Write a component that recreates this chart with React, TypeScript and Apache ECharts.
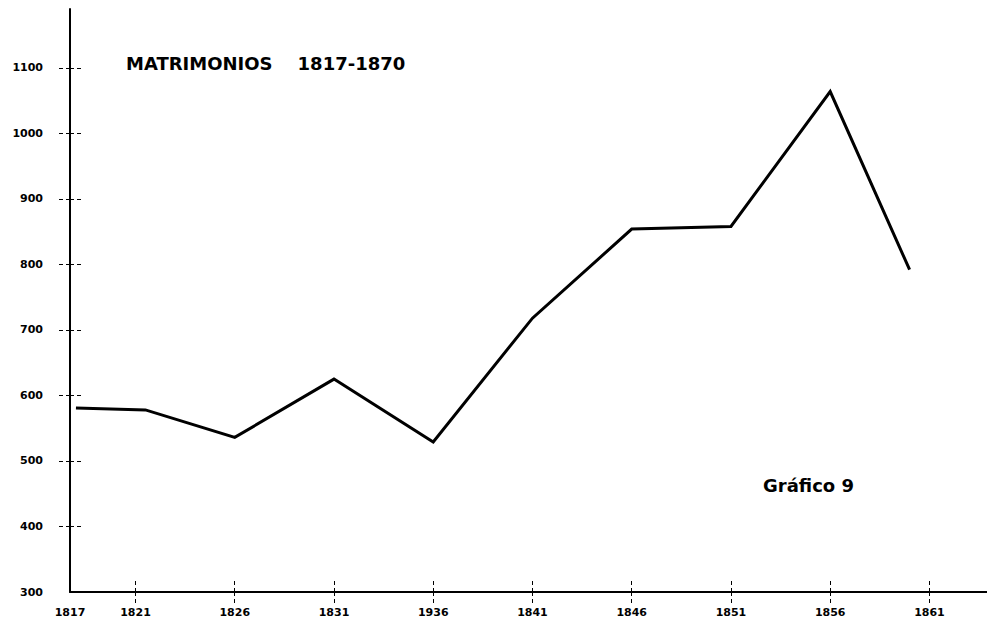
import React, { useEffect, useRef } from "react";
import * as echarts from "echarts";

// Data
const years = [1818, 1821.5, 1826, 1831, 1836, 1841, 1846, 1851, 1856, 1860];
const marriages = [581, 578, 536, 625, 529, 718, 854, 858, 1064, 792];

// Axis ticks / labels
const xTickYears = [1821, 1826, 1831, 1836, 1841, 1846, 1851, 1856, 1861];
const xTickLabels = ["1821", "1826", "1831", "1936", "1841", "1846", "1851", "1856", "1861"];
const xOriginLabel = "1817";
const xMin = 1817.7;
const xMax = 1863.9;
const yTicks = [300, 400, 500, 600, 700, 800, 900, 1000, 1100];
const yMin = 300;
const yMax = 1190;

const titleText = "MATRIMONIOS\u00a0\u00a0\u00a0\u00a01817-1870";
const noteText = "Gráfico 9";

export default function App() {
  const ref = useRef<HTMLDivElement>(null);

  useEffect(() => {
    if (!ref.current) return;
    const chart = echarts.init(ref.current, null, { renderer: "svg" });
    const font = "DejaVu Sans";
    const labelFor = (v: number) => {
      if (v < xTickYears[0] - 1) return xOriginLabel;
      const i = xTickYears.indexOf(Math.round(v));
      return i >= 0 ? xTickLabels[i] : String(v);
    };
    const tickStyle = { color: "#000", width: 1, type: [4, 3] as any };
    chart.setOption({
      animation: false,
      backgroundColor: "#fff",
      title: [
        {
          text: titleText,
          left: 121,
          top: 49,
          textStyle: { fontFamily: font, fontWeight: "bold", fontSize: 18, color: "#000" },
        },
        {
          text: noteText,
          left: 758,
          top: 471,
          textStyle: { fontFamily: font, fontWeight: "bold", fontSize: 18, color: "#000" },
        },
      ],
      grid: { left: 70, right: 0, top: 9, bottom: 29, containLabel: false },
      xAxis: [
        {
          type: "value",
          min: xMin,
          max: xMax,
          position: "bottom",
          axisLine: { show: true, onZero: false, lineStyle: { color: "#000", width: 2 } },
          axisTick: { show: true, length: 11, customValues: xTickYears, lineStyle: tickStyle },
          axisLabel: {
            show: true,
            customValues: [xMin, ...xTickYears],
            formatter: (v: number) => labelFor(v),
            margin: 15,
            fontFamily: font,
            fontWeight: "bold",
            fontSize: 11,
            color: "#000",
          },
          splitLine: { show: false },
        },
        {
          type: "value",
          min: xMin,
          max: xMax,
          position: "bottom",
          axisLine: { show: false, onZero: false },
          axisTick: { show: true, inside: true, length: 11, customValues: xTickYears, lineStyle: tickStyle },
          axisLabel: { show: false },
          splitLine: { show: false },
        },
      ],
      yAxis: [
        {
          type: "value",
          min: yMin,
          max: yMax,
          interval: 100,
          position: "left",
          axisLine: { show: true, onZero: false, lineStyle: { color: "#000", width: 2 } },
          axisTick: { show: true, length: 13, customValues: yTicks.slice(1), lineStyle: tickStyle },
          axisLabel: {
            show: true,
            customValues: yTicks,
            formatter: (v: number) => String(v),
            margin: 27,
            fontFamily: font,
            fontWeight: "bold",
            fontSize: 11,
            color: "#000",
          },
          splitLine: { show: false },
        },
        {
          type: "value",
          min: yMin,
          max: yMax,
          interval: 100,
          position: "left",
          offset: 0,
          axisLine: { show: false, onZero: false },
          axisTick: { show: true, inside: true, length: 13, customValues: yTicks.slice(1), lineStyle: tickStyle },
          axisLabel: { show: false },
          splitLine: { show: false },
        },
      ],
      series: [
        {
          type: "line",
          xAxisIndex: 0,
          yAxisIndex: 0,
          data: years.map((y, i) => [y, marriages[i]]),
          symbol: "none",
          lineStyle: { color: "#000", width: 3, join: "miter" },
        },
      ],
    });
    return () => chart.dispose();
  }, []);

  return (
    <div
      ref={ref}
      style={{ position: "absolute", left: 0, top: 0, width: 987, height: 621, background: "#fff" }}
    />
  );
}
